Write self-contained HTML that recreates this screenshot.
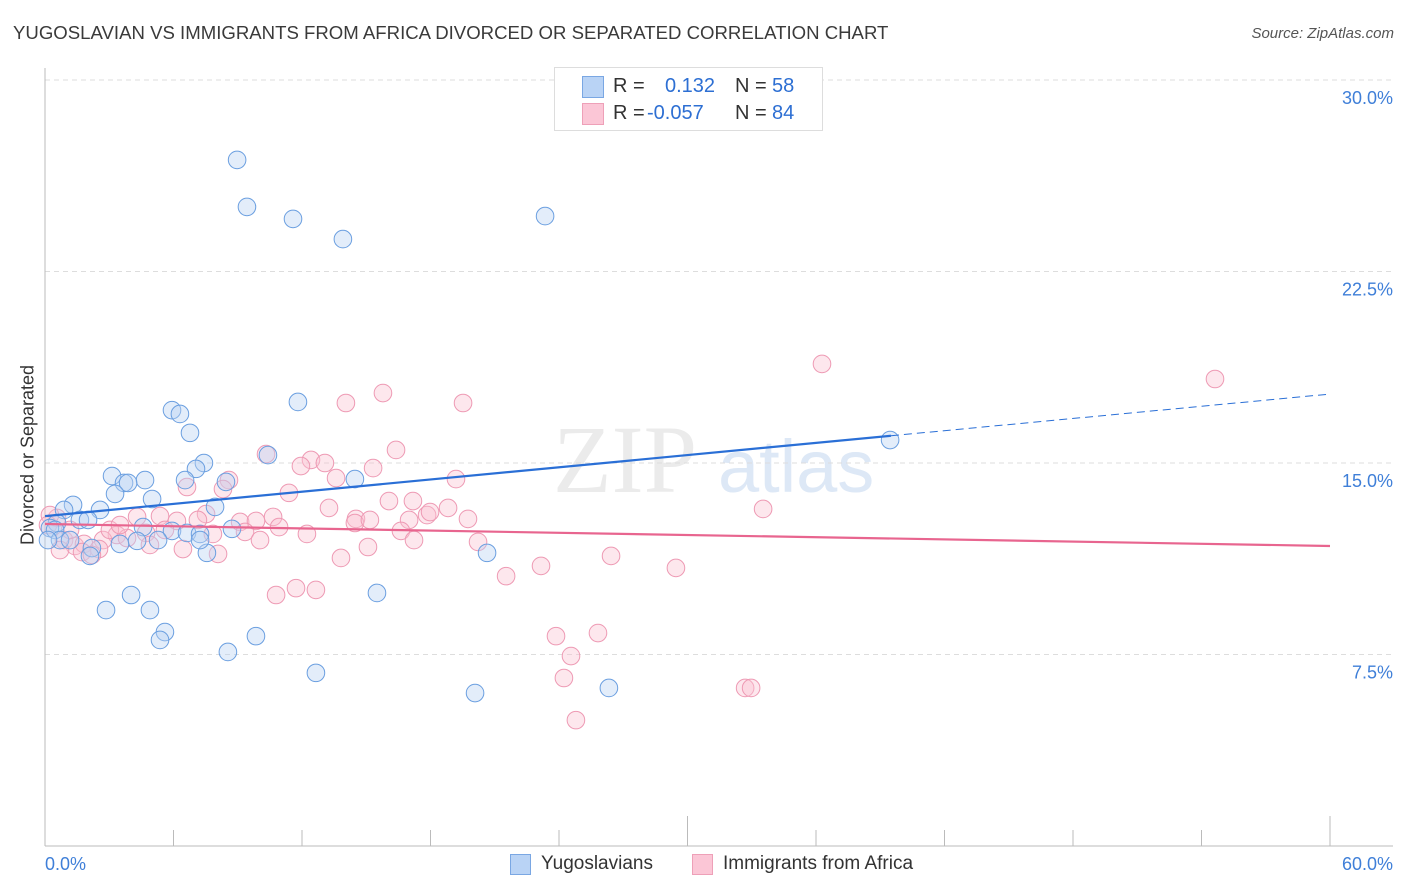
<!DOCTYPE html>
<html><head><meta charset="utf-8"><style>
body{margin:0;background:#fff;font-family:"Liberation Sans",sans-serif}
#wrap{position:relative;width:1406px;height:892px;overflow:hidden}
.t{position:absolute;white-space:nowrap}
</style></head><body>
<div id="wrap">
<div class="t" style="left:13px;top:22px;font-size:18.6px;color:#3a3a3a">YUGOSLAVIAN VS IMMIGRANTS FROM AFRICA DIVORCED OR SEPARATED CORRELATION CHART</div>
<div class="t" style="right:12px;top:25px;font-size:15px;color:#555;font-style:italic">Source: ZipAtlas.com</div>
<div class="t" style="left:28px;top:455px;font-size:18px;color:#333;transform:translate(-50%,-50%) rotate(-90deg)">Divorced or Separated</div>
<svg id="plot" width="1406" height="892" style="position:absolute;left:0;top:0"></svg>
<div style="position:absolute;left:554px;top:67px;width:267px;height:62px;border:1px solid #ddd;background:#fff;font-size:20px">
 <div style="position:absolute;left:27px;top:8px;width:20px;height:20px;background:#b9d3f5;border:1px solid #7aa7e3"></div>
 <div class="t" style="left:58px;top:7px;color:#333">R =</div><div class="t" style="left:110px;top:7px;color:#2d6fd3">0.132</div>
 <div class="t" style="left:180px;top:7px;color:#333">N =</div><div class="t" style="left:217px;top:7px;color:#2d6fd3">58</div>
 <div style="position:absolute;left:27px;top:35px;width:20px;height:20px;background:#fbc6d6;border:1px solid #eea0b8"></div>
 <div class="t" style="left:58px;top:34px;color:#333">R =</div><div class="t" style="left:92px;top:34px;color:#2d6fd3">-0.057</div>
 <div class="t" style="left:180px;top:34px;color:#333">N =</div><div class="t" style="left:217px;top:34px;color:#2d6fd3">84</div>
</div>
<div style="position:absolute;left:510px;top:853px">
 <div style="position:absolute;left:0;top:1px;width:19px;height:19px;background:#b9d3f5;border:1px solid #7aa7e3"></div>
 <div class="t" style="left:31px;top:0;font-size:19px;color:#333">Yugoslavians</div></div>
<div style="position:absolute;left:692px;top:853px">
 <div style="position:absolute;left:0;top:1px;width:19px;height:19px;background:#fbc6d6;border:1px solid #eea0b8"></div>
 <div class="t" style="left:31px;top:0;font-size:19px;color:#333">Immigrants from Africa</div></div>
</div>
<script>
const yTicks=[7.5,15.0,22.5,30.0];
const xTickLabels=["0.0%","60.0%"];
const blueX=[8.97,9.43,11.58,13.91,23.35,11.81,5.93,6.30,6.77,7.42,7.05,3.13,4.67,3.69,3.88,6.54,8.45,14.47,3.27,5.00,1.31,2.57,0.89,7.94,1.63,2.01,0.56,0.23,0.47,4.58,5.93,6.63,7.24,8.73,10.41,0.70,1.17,3.50,4.30,5.28,2.19,2.10,7.56,20.64,4.02,2.85,4.90,5.60,5.37,9.85,8.54,15.50,12.65,20.08,26.33,39.46,0.14,7.24];
const blueY=[26.87,25.03,24.56,23.77,24.67,17.39,17.07,16.92,16.18,15.00,14.77,14.49,14.33,14.22,14.22,14.33,14.26,14.37,13.79,13.59,13.36,13.16,13.16,13.28,12.77,12.77,12.65,12.45,12.38,12.49,12.34,12.26,12.22,12.42,15.31,11.98,11.98,11.83,11.95,11.98,11.67,11.36,11.48,11.48,9.83,9.24,9.24,8.38,8.07,8.22,7.60,9.91,6.78,5.99,6.19,15.90,11.98,11.98];
const pinkX=[36.28,54.63,15.78,14.05,19.52,16.39,10.32,12.42,13.07,11.95,15.32,19.19,13.59,8.59,6.63,8.31,11.39,16.06,17.18,13.26,18.82,33.53,17.84,19.75,14.52,10.65,4.30,5.37,6.16,7.52,7.14,9.11,9.85,17.00,10.93,9.34,12.23,16.62,5.60,14.47,7.84,3.36,2.71,3.83,4.72,0.89,1.40,1.82,0.56,0.23,0.14,17.23,15.08,20.22,6.44,8.08,13.82,2.52,1.73,2.19,23.16,26.43,29.46,21.53,11.72,12.65,10.79,23.86,25.82,24.56,24.23,32.69,32.97,24.79,0.70,1.17,3.03,4.90,10.04,15.17,3.50,17.98];
const pinkY=[18.88,18.29,17.74,17.35,17.35,15.51,15.35,15.12,15.00,14.88,14.80,14.37,14.41,14.33,14.06,13.98,13.83,13.51,13.51,13.24,13.24,13.20,12.96,12.81,12.81,12.89,12.89,12.92,12.73,13.00,12.77,12.69,12.73,12.77,12.49,12.30,12.22,12.34,12.38,12.65,12.22,12.18,11.98,12.06,12.26,11.98,11.75,11.83,12.85,12.96,12.57,11.98,11.71,11.91,11.63,11.44,11.28,11.63,11.51,11.40,10.97,11.36,10.89,10.57,10.10,10.03,9.83,8.22,8.34,7.44,6.58,6.19,6.19,4.93,11.59,12.38,12.38,11.79,11.98,12.77,12.57,13.08];
const blueTrend=[12.92,17.70]; const blueSolidEnd=39.5;
const pinkTrend=[12.61,11.75];
const X=v=>45+v/60*1285, Y=v=>846-v/30*766;
const svg=document.getElementById('plot'),NS='http://www.w3.org/2000/svg';
function mk(t,a){const e=document.createElementNS(NS,t);for(const k in a)e.setAttribute(k,a[k]);svg.appendChild(e);return e;}
let wm=mk('text',{x:553,y:492,'font-size':96,fill:'#ebebeb','font-family':'Liberation Serif, serif'});wm.textContent='ZIP';


let wm2=mk('text',{x:718,y:492,'font-size':74,fill:'#dde8f6','font-family':'Liberation Sans, sans-serif'});wm2.textContent='atlas';


yTicks.forEach(v=>{
 const g=mk('line',{x1:45,x2:1393,y1:Y(v),y2:Y(v),stroke:'#ddd','stroke-dasharray':'5,4'});
 
 
 const t=mk('text',{x:1393,y:Y(v)+24,'text-anchor':'end','font-size':18,fill:'#3f7fd8','font-family':'Liberation Sans, sans-serif'});t.textContent=v.toFixed(1)+'%';
 
 
});
let ax=mk('line',{x1:45,x2:45,y1:68,y2:846,stroke:'#bbb'});


let bx=mk('line',{x1:45,x2:1393,y1:846,y2:846,stroke:'#bbb'});


for(let i=0;i<=10;i++){const v=i*6;const tk=mk('line',{x1:X(v),x2:X(v),y1:(i==5||i==10)?816:830,y2:846,stroke:'#bbb'});
 
 }
xTickLabels.forEach((s,i)=>{const t=mk('text',{x:i?1393:45,y:870,'text-anchor':i?'end':'start','font-size':18,fill:'#3f7fd8','font-family':'Liberation Sans, sans-serif'});t.textContent=s;
 
 });
function pts(xs,ys,fill,stroke,name){xs.forEach((x,i)=>{const c=mk('circle',{cx:X(x),cy:Y(ys[i]),r:8.8,fill:fill,'fill-opacity':0.4,stroke:stroke,'stroke-width':1});
 
 });}
pts(pinkX,pinkY,'#f9c3d3','#ee9ab4','point-immigrants-africa');
pts(blueX,blueY,'#b8d2f3','#6b9fe0','point-yugoslavians');
const lb=v=>blueTrend[0]+(blueTrend[1]-blueTrend[0])*v/60;
let l1=mk('line',{x1:X(0),y1:Y(lb(0)),x2:X(blueSolidEnd),y2:Y(lb(blueSolidEnd)),stroke:'#2a6fd6','stroke-width':2.2});


let l2=mk('line',{x1:X(blueSolidEnd),y1:Y(lb(blueSolidEnd)),x2:X(60),y2:Y(lb(60)),stroke:'#2a6fd6','stroke-width':1,'stroke-dasharray':'8,5'});


let l3=mk('line',{x1:X(0),y1:Y(pinkTrend[0]),x2:X(60),y2:Y(pinkTrend[1]),stroke:'#e8658f','stroke-width':2.2});


</script>
</body></html>
